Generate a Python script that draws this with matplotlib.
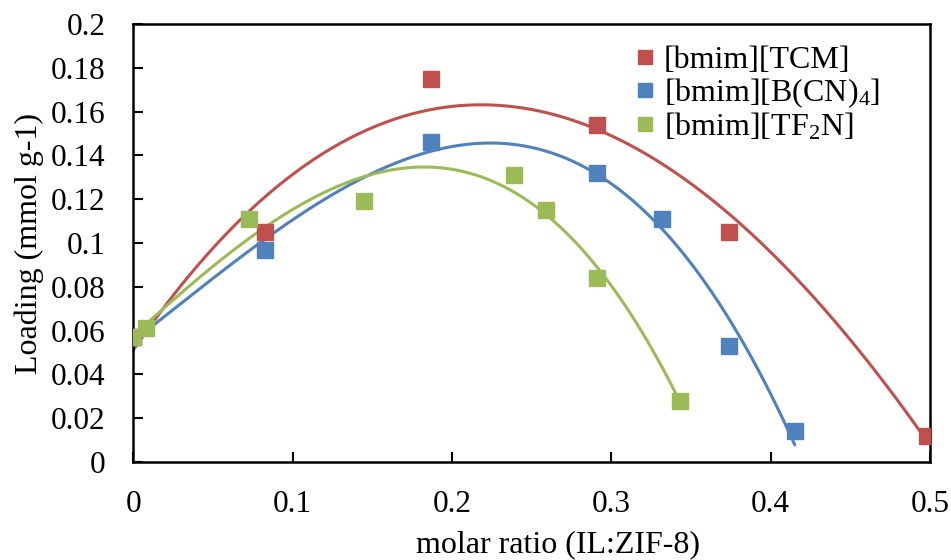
import numpy as np
import matplotlib
matplotlib.use("Agg")
import matplotlib.pyplot as plt

# molar ratio (IL:ZIF-8) and loading (mmol g-1)
x_tcm = [0.0, 0.083, 0.187, 0.291, 0.374, 0.498]
y_tcm = [0.057, 0.105, 0.175, 0.154, 0.105, 0.012]

x_bcn = [0.0, 0.083, 0.187, 0.291, 0.332, 0.374, 0.415]
y_bcn = [0.057, 0.097, 0.146, 0.132, 0.111, 0.053, 0.014]

x_tf2n = [0.0, 0.008, 0.073, 0.145, 0.239, 0.259, 0.291, 0.343]
y_tf2n = [0.057, 0.061, 0.111, 0.119, 0.131, 0.115, 0.084, 0.028]

labels = ["[bmim][TCM]", "[bmim][B(CN)$_4$]", "[bmim][TF$_2$N]"]
colors = ["#C0504D", "#4F81BD", "#9BBB59"]

plt.rcParams['font.family'] = ['Liberation Serif', 'DejaVu Serif']
plt.rcParams['mathtext.fontset'] = 'custom'
plt.rcParams['mathtext.rm'] = 'Liberation Serif'
plt.rcParams['mathtext.it'] = 'Liberation Serif'

fig = plt.figure(figsize=(9.51, 5.6), dpi=100)
ax = fig.add_axes([0.14, 0.175, 0.838, 0.782])

series = [(x_tcm, y_tcm), (x_bcn, y_bcn), (x_tf2n, y_tf2n)]
for (xs, ys), lab, c in zip(series, labels, colors):
    xs = np.array(xs)
    ys = np.array(ys)
    # polynomial trend line, like the spreadsheet one
    coef = np.polyfit(xs, ys, 3)
    xx = np.linspace(xs.min(), xs.max(), 200)
    ax.plot(xx, np.polyval(coef, xx), color=c, lw=2.2, zorder=2)
    ax.plot(xs, ys, 's', color=c, ms=11.5, label=lab, zorder=3, linestyle='none')

ax.set_xlim(0, 0.5)
ax.set_ylim(0, 0.2)
ax.set_xticks(np.arange(0, 0.51, 0.1))
ax.set_xticklabels(["0", "0.1", "0.2", "0.3", "0.4", "0.5"])
ax.set_yticks(np.arange(0, 0.201, 0.02))
ax.set_yticklabels(["0", "0.02", "0.04", "0.06", "0.08", "0.1", "0.12",
                    "0.14", "0.16", "0.18", "0.2"])
ax.tick_params(direction='in', length=7, width=1.5, labelsize=22.5, pad=20)
for s in ax.spines.values():
    s.set_linewidth(1.8)

ax.set_xlabel("molar ratio (IL:ZIF-8)", fontsize=23)
ax.xaxis.set_label_coords(0.533, -0.155)
ax.set_ylabel("Loading (mmol g-1)", fontsize=23, labelpad=5)

ax.legend(loc='upper left', frameon=False, fontsize=23, handlelength=0.6,
          handletextpad=0.3, labelspacing=0.03, markerscale=0.9,
          borderaxespad=0, borderpad=0, bbox_to_anchor=(0.63, 0.95))

fig.savefig("out.png", dpi=100)
